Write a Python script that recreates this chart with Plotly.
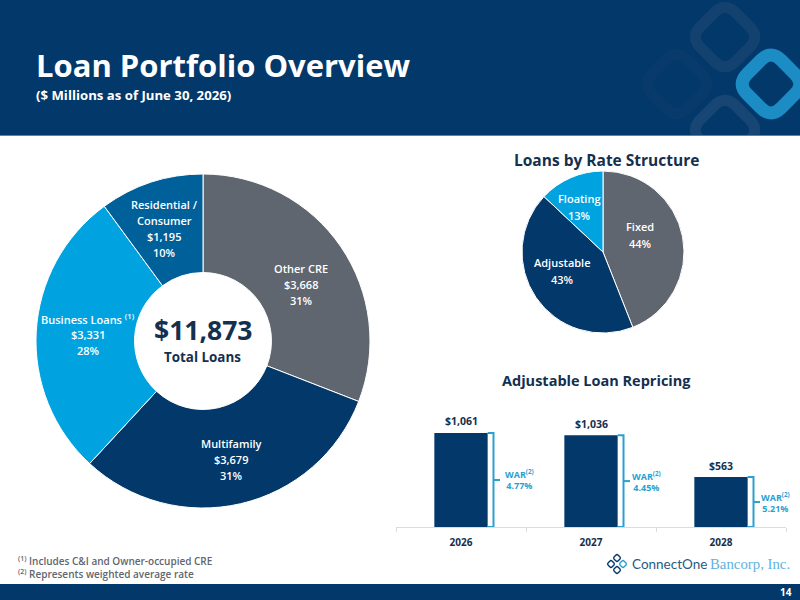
import plotly.graph_objects as go

W, H = 800, 600
FONT = "Open Sans"
NAVY = "#03386a"
GREY = "#5f6670"
CYAN = "#00a3e0"
BLUE = "#00609a"
BRACKET = "#2a9fd0"
INK = "#14304f"

# loan mix
loan_names = ["Other CRE", "Multifamily", "Business Loans <sup>(1)</sup>", "Residential /<br>Consumer"]
loan_values = [3668, 3679, 3331, 1195]
loan_pcts = [31, 31, 28, 10]
loan_colors = [GREY, NAVY, CYAN, BLUE]

# rate structure
rate_names = ["Fixed", "Adjustable", "Floating"]
rate_values = [44, 43, 13]
rate_colors = [GREY, NAVY, CYAN]

# repricing
years = ["2026", "2027", "2028"]
repricing = [1061, 1036, 563]
war = [4.77, 4.45, 5.21]

# the WAR labels do not sit at quite the same distance from each bracket
WAR_SHIFT = [3, 0, -1]


def px(x):
    return x / W


def py(y):
    return 1 - y / H


def diamond(cx, cy, r, corner=0.3):
    # rounded diamond outline, pixel coordinates in, paper coordinates out
    c = r * corner
    pts = [(cx, cy - r), (cx + r, cy), (cx, cy + r), (cx - r, cy)]
    path = ""
    for i, (x, y) in enumerate(pts):
        nx, ny = pts[(i + 1) % 4]
        lx, ly = pts[i - 1]
        sx, sy = x + (lx - x) * c / r, y + (ly - y) * c / r
        ex, ey = x + (nx - x) * c / r, y + (ny - y) * c / r
        path += f"{'M' if i == 0 else 'L'} {px(sx)} {py(sy)} Q {px(x)} {py(y)} {px(ex)} {py(ey)} "
    return path + "Z"


def rect(y0, y1, color):
    return dict(type="rect", xref="paper", yref="paper", x0=0, x1=1, y0=py(y1), y1=py(y0),
                fillcolor=color, line_width=0, layer="below")


def deco(cx, cy, r, color, width):
    return dict(type="path", xref="paper", yref="paper", path=diamond(cx, cy, r),
                line=dict(color=color, width=width), layer="below")


shapes = [
    rect(0, 135, NAVY),
    deco(677, 84, 35, "#083a6b", 11),
    deco(725, 37, 35, "#134270", 11),
    deco(725, 130, 35, "#174674", 11),
    deco(771, 84, 34, "#1b8cc4", 13),
    rect(135, 137, "#ffffff"),
    rect(135, 136, "#4d8aa6"),
    rect(136, 172, "#ffffff"),
    rect(584, 600, NAVY),
    deco(617, 558, 4, NAVY, 1.4),
    deco(611, 564, 4, NAVY, 1.4),
    deco(623, 564, 4, BRACKET, 1.4),
    deco(617, 570, 4, NAVY, 1.4),
]

fig = go.Figure()

fig.add_trace(go.Pie(
    values=loan_values, labels=loan_names, sort=False, direction="clockwise", rotation=0,
    hole=0.41, textinfo="none", showlegend=False,
    marker=dict(colors=loan_colors, line=dict(color="#ffffff", width=1)),
    domain=dict(x=[px(36), px(370)], y=[py(508), py(174)]),
))

fig.add_trace(go.Pie(
    values=rate_values, labels=rate_names, sort=False, direction="clockwise", rotation=0,
    textinfo="none", showlegend=False,
    marker=dict(colors=rate_colors, line=dict(color="#ffffff", width=1)),
    domain=dict(x=[px(522), px(684)], y=[py(333), py(171)]),
))

fig.add_trace(go.Bar(
    x=list(range(len(years))), y=repricing, width=0.41, marker=dict(color=NAVY, line_width=0),
    showlegend=False,
))

# brackets next to each bar
for i, v in enumerate(repricing):
    fig.add_trace(go.Scatter(
        x=[i + 0.205, i + 0.25, i + 0.25, i + 0.205, None, i + 0.25, i + 0.30],
        y=[v, v, 0, 0, None, v / 2, v / 2],
        mode="lines", line=dict(color=BRACKET, width=2), cliponaxis=False, showlegend=False,
    ))


def note(x, y, text, size=11, color="#ffffff", weight=600, anchor="center", family=FONT):
    return dict(x=px(x), y=py(y), xref="paper", yref="paper", text=text, showarrow=False,
                xanchor=anchor, yanchor="middle", align=anchor,
                font=dict(family=family, size=size, color=color, weight=weight))


def block(x, y, lines, gap=15.8):
    # the slide spaces its label lines wider than a plain line break
    top = y - gap * (len(lines) - 1) / 2
    return [note(x, top + k * gap, line) for k, line in enumerate(lines)]


annotations = [
    note(34, 65.5, "Loan Portfolio Overview", 31, "#ffffff", 700, "left"),
    note(34, 95, "($ Millions as of June 30, 2026)", 13.2, "#ffffff", 700, "left"),
    note(606, 160, "Loans by Rate Structure", 15.5, INK, 700),
    note(596, 380, "Adjustable Loan Repricing", 14.5, INK, 700),
    note(203, 329.5, "$11,873", 26.5, INK, 700),
    note(203, 356.5, "Total Loans", 13.4, INK, 700),
    note(16, 561, "<sup>(1)</sup> Includes C&I and Owner-occupied CRE", 10, GREY, 600, "left"),
    note(16, 574, "<sup>(2)</sup> Represents weighted average rate", 10, GREY, 600, "left"),
    note(786, 592, "14", 10, "#ffffff", 700),
    note(630, 564, "ConnectOne", 13.5, "#2b5a82", 400, "left", "Lato"),
    note(708, 564, "Bancorp, Inc.", 14.8, "#5db3e0", 400, "left", "Liberation Serif"),
]

loan_pos = [(301, 284.5), (231, 459.5), (88, 334.5), (164, 228.5)]
for (x, y), name, v, p in zip(loan_pos, loan_names, loan_values, loan_pcts):
    annotations += block(x, y, name.split("<br>") + [f"${v:,}", f"{p}%"])

rate_pos = [(640, 235), (562, 271), (579, 207)]
for (x, y), name, v in zip(rate_pos, rate_names, rate_values):
    annotations += block(x, y, [name, f"{v}%"], gap=16.5)

for i, (v, w) in enumerate(zip(repricing, war)):
    annotations.append(dict(
        x=i, y=v, xref="x", yref="y", yshift=11.5, showarrow=False, xanchor="center", yanchor="middle",
        text=f"${v:,}", font=dict(family=FONT, size=10.5, color=INK, weight=700),
    ))
    annotations.append(dict(
        x=i + 0.30, y=v / 2, xref="x", yref="y", xshift=WAR_SHIFT[i], showarrow=False, xanchor="left", yanchor="middle",
        text=f"WAR<sup>(2)</sup><br>{w:.2f}%", align="center",
        font=dict(family=FONT, size=9, color=BRACKET, weight=700),
    ))

fig.update_layout(
    width=W, height=H, autosize=False, margin=dict(l=0, r=0, t=0, b=0),
    paper_bgcolor="#ffffff", plot_bgcolor="#ffffff",
    font=dict(family=FONT), shapes=shapes, annotations=annotations,
    xaxis=dict(domain=[px(396), px(786)], range=[-0.5, 2.5], tickvals=list(range(len(years))), ticktext=years,
               ticks="", ticklabelstandoff=6, showline=True, linecolor="#dcdcdc", showgrid=False, zeroline=False,
               minor=dict(ticks="outside", ticklen=4, tickcolor="#dcdcdc", tick0=-0.5, dtick=1, showgrid=False),
               tickfont=dict(family=FONT, size=10, color=INK, weight=700), fixedrange=True),
    yaxis=dict(domain=[py(527), py(400)], range=[0, 1433], visible=False, showgrid=False, fixedrange=True),
)

fig.write_html("out.html", config=dict(displayModeBar=False), post_script="document.body.style.margin='0';")
